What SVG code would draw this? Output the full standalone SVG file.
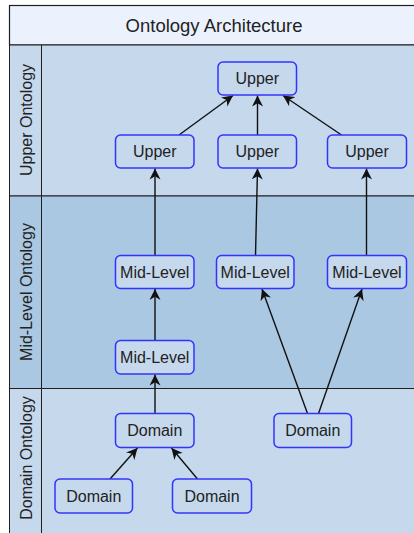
<svg xmlns="http://www.w3.org/2000/svg" width="414" height="533" viewBox="0 0 414 533">
  <style>
    .lane-light { fill: #c5d8ec; stroke: #1f1f1f; stroke-width: 1; }
    .lane-dark { fill: #aac8e2; stroke: #1f1f1f; stroke-width: 1; }
    .title-band { fill: #ebf2fe; stroke: #1f1f1f; stroke-width: 1.2; }
    .title { font-family: "Liberation Sans", Arial, sans-serif; font-size: 18.5px; fill: #222; text-anchor: middle; }
    .lane-label { font-family: "Liberation Sans", Arial, sans-serif; font-size: 16px; fill: #222; text-anchor: middle; }
    .node rect { fill: #c5d8ec; stroke: #3333ff; stroke-width: 1.5; }
    .node text { font-family: "Liberation Sans", Arial, sans-serif; font-size: 16px; fill: #222; text-anchor: middle; }
    .edge { stroke: #111; stroke-width: 1.4; fill: none; marker-end: url(#arrow); }
  </style>
  <defs>
    <marker id="arrow" markerUnits="userSpaceOnUse" markerWidth="12" markerHeight="12" viewBox="0 0 12 11" refX="11" refY="5.5" orient="auto">
      <path d="M0,0 L11,5.5 L0,11 L3.2,5.5 z" fill="#111"/>
    </marker>
  </defs>

  <!-- pool frame, title band and swimlanes -->
  <g id="pool">
    <rect class="title-band" x="9.5" y="5.5" width="420" height="39.5"/>
    <text class="title" x="214" y="32">Ontology Architecture</text>

    <rect class="lane-light" x="9.5" y="45" width="420" height="151"/>
    <rect class="lane-dark" x="9.5" y="196" width="420" height="192.5"/>
    <rect class="lane-light" x="9.5" y="388.5" width="420" height="160"/>
    <line x1="41.5" y1="45" x2="41.5" y2="540" stroke="#1f1f1f" stroke-width="1"/>

    <text class="lane-label" transform="translate(31.5,120) rotate(-90)">Upper Ontology</text>
    <text class="lane-label" transform="translate(31.5,292) rotate(-90)">Mid-Level Ontology</text>
    <text class="lane-label" transform="translate(31.5,458) rotate(-90)">Domain Ontology</text>
  </g>

  <!-- connectors -->
  <g id="connectors">
    <line class="edge" x1="179" y1="135" x2="233" y2="95.5"/>
    <line class="edge" x1="257.5" y1="135" x2="257.5" y2="95.5"/>
    <line class="edge" x1="341.5" y1="135" x2="283" y2="95.5"/>

    <line class="edge" x1="155" y1="255.5" x2="155" y2="168.5"/>
    <line class="edge" x1="255.5" y1="255.5" x2="257.5" y2="168.5"/>
    <line class="edge" x1="366.5" y1="255.5" x2="366.5" y2="168.5"/>

    <line class="edge" x1="155" y1="340.5" x2="155" y2="289"/>
    <line class="edge" x1="155" y1="413.5" x2="155" y2="374.5"/>

    <line class="edge" x1="307.5" y1="413.5" x2="262" y2="289"/>
    <line class="edge" x1="318.5" y1="413.5" x2="362" y2="289"/>

    <line class="edge" x1="110" y1="479" x2="137.5" y2="448"/>
    <line class="edge" x1="197.5" y1="479" x2="171.5" y2="448"/>
  </g>

  <!-- upper ontology nodes -->
  <g id="upper-top" class="node">
    <rect x="218" y="62" width="78.5" height="33" rx="5"/>
    <text x="257.25" y="84.3">Upper</text>
  </g>
  <g id="upper-left" class="node">
    <rect x="115.5" y="135" width="78.5" height="33" rx="5"/>
    <text x="154.75" y="157.3">Upper</text>
  </g>
  <g id="upper-middle" class="node">
    <rect x="218" y="135" width="78.5" height="33" rx="5"/>
    <text x="257.25" y="157.3">Upper</text>
  </g>
  <g id="upper-right" class="node">
    <rect x="327.5" y="135" width="79" height="33" rx="5"/>
    <text x="367" y="157.3">Upper</text>
  </g>

  <!-- mid-level ontology nodes -->
  <g id="mid-left" class="node">
    <rect x="115.5" y="255.5" width="78.5" height="33" rx="5"/>
    <text x="154.75" y="277.8">Mid-Level</text>
  </g>
  <g id="mid-middle" class="node">
    <rect x="216.5" y="255.5" width="77.5" height="33" rx="5"/>
    <text x="255.25" y="277.8">Mid-Level</text>
  </g>
  <g id="mid-right" class="node">
    <rect x="327.5" y="255.5" width="79" height="33" rx="5"/>
    <text x="367" y="277.8">Mid-Level</text>
  </g>
  <g id="mid-lower" class="node">
    <rect x="115.5" y="340.5" width="78.5" height="33.5" rx="5"/>
    <text x="154.75" y="363">Mid-Level</text>
  </g>

  <!-- domain ontology nodes -->
  <g id="domain-left" class="node">
    <rect x="115.5" y="413.5" width="78.5" height="34" rx="5"/>
    <text x="154.75" y="436.3">Domain</text>
  </g>
  <g id="domain-right" class="node">
    <rect x="274" y="413.5" width="77.5" height="34" rx="5"/>
    <text x="312.75" y="436.3">Domain</text>
  </g>
  <g id="domain-bottom-left" class="node">
    <rect x="55" y="479" width="77.5" height="34" rx="5"/>
    <text x="93.75" y="501.8">Domain</text>
  </g>
  <g id="domain-bottom-right" class="node">
    <rect x="172.5" y="479" width="79" height="34" rx="5"/>
    <text x="212" y="501.8">Domain</text>
  </g>
</svg>
